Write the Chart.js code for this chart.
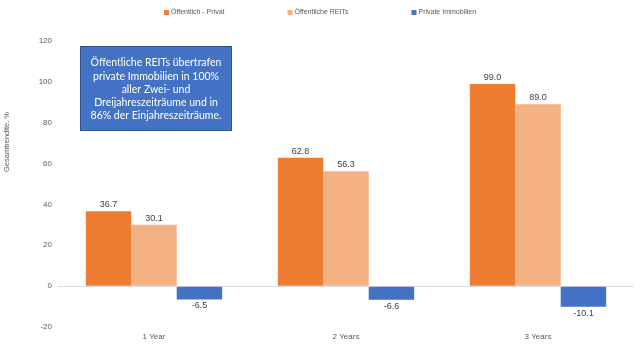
<!DOCTYPE html>
<html>
<head>
<meta charset="utf-8">
<script src="https://cdn.jsdelivr.net/npm/chart.js@4.4.1/dist/chart.umd.min.js"></script>
<style>
  html, body { margin: 0; padding: 0; background: #fff; }
  #wrap { width: 640px; height: 349px; position: relative; }
</style>
</head>
<body>
<div id="wrap"><canvas id="barChart"></canvas></div>
<script>
// chart data
const categories = ['1 Year', '2 Years', '3 Years'];
const seriesNames = ['Öffentlich - Privat', 'Öffentliche REITs', 'Private Immobilien'];
const diffValues = [36.7, 62.8, 99.0];
const reitValues = [30.1, 56.3, 89.0];
const privateValues = [-6.5, -6.6, -10.1];
const yTicks = [-20, 0, 20, 40, 60, 80, 100, 120];
const yTitle = 'Gesamtrendite, %';
const noteLines = [
    'Öffentliche REITs übertrafen',
    'private Immobilien in 100%',
    'aller Zwei- und',
    'Dreijahreszeiträume und in',
    '86% der Einjahreszeiträume.'
];

const axisFont = 'Liberation Sans, Arial, sans-serif';

// value labels above / below each bar
const valueLabels = {
    id: 'valueLabels',
    afterDatasetsDraw(chart) {
        const ctx = chart.ctx;
        ctx.save();
        ctx.font = '9px ' + axisFont;
        ctx.fillStyle = '#404040';
        ctx.textAlign = 'center';
        chart.data.datasets.forEach((ds, i) => {
            const meta = chart.getDatasetMeta(i);
            meta.data.forEach((bar, j) => {
                const v = ds.data[j];
                if (v >= 0) {
                    ctx.textBaseline = 'bottom';
                    ctx.fillText(v.toFixed(1), bar.x, bar.y - 2);
                } else {
                    ctx.textBaseline = 'top';
                    ctx.fillText(v.toFixed(1), bar.x, bar.y + 2);
                }
            });
        });
        ctx.restore();
    }
};

// legend, y title and the note box
const extras = {
    id: 'extras',
    afterDraw(chart) {
        const ctx = chart.ctx;
        ctx.save();

        // legend
        ctx.font = '7px ' + axisFont;
        ctx.textBaseline = 'middle';
        ctx.textAlign = 'left';
        const gap = 63;
        const items = chart.data.datasets.map(ds => ({
            label: ds.label,
            color: ds.backgroundColor,
            w: 5 + 2 + ctx.measureText(ds.label).width
        }));
        let total = items.reduce((s, it) => s + it.w, 0) + gap * (items.length - 1);
        let x = 320 - total / 2;
        items.forEach(it => {
            ctx.fillStyle = it.color;
            ctx.fillRect(x, 10, 5, 5);
            ctx.fillStyle = '#595959';
            ctx.fillText(it.label, x + 7, 12.5);
            x += it.w + gap;
        });

        // y axis title
        ctx.translate(7, 142);
        ctx.rotate(-Math.PI / 2);
        ctx.textAlign = 'center';
        ctx.font = '7.5px ' + axisFont;
        ctx.fillStyle = '#595959';
        ctx.fillText(yTitle, 0, 0);
        ctx.setTransform(1, 0, 0, 1, 0, 0);

        // note box
        ctx.fillStyle = '#4472C4';
        ctx.fillRect(80, 46, 152, 85);
        ctx.strokeStyle = '#2F528F';
        ctx.lineWidth = 1;
        ctx.strokeRect(80.5, 46.5, 151, 84);
        ctx.fillStyle = '#ffffff';
        ctx.font = '10.5px Lato, sans-serif';
        ctx.textAlign = 'center';
        noteLines.forEach((line, i) => {
            ctx.fillText(line, 156, 63 + i * 13.2);
        });

        ctx.restore();
    }
};

const ctx = document.getElementById('barChart').getContext('2d');
const barChart = new Chart(ctx, {
    type: 'bar',
    data: {
        labels: categories,
        datasets: [
            { label: seriesNames[0], data: diffValues, backgroundColor: '#ED7D31' },
            { label: seriesNames[1], data: reitValues, backgroundColor: '#F4B183' },
            { label: seriesNames[2], data: privateValues, backgroundColor: '#4472C4' }
        ]
    },
    options: {
        responsive: true,
        maintainAspectRatio: false,
        animation: false,
        layout: { padding: { top: 41, left: 0, right: 6, bottom: 0 } },
        datasets: {
            bar: { barPercentage: 1, categoryPercentage: 0.71 }
        },
        plugins: {
            legend: { display: false },
            tooltip: { enabled: false }
        },
        scales: {
            x: {
                grid: { display: false },
                border: { display: false },
                ticks: { color: '#595959', font: { size: 8, family: axisFont }, padding: -3 },
                afterFit(scale) { scale.height = 22; }
            },
            y: {
                min: -20,
                max: 120,
                afterBuildTicks(scale) { scale.ticks = yTicks.map(v => ({ value: v })); },
                grid: {
                    drawTicks: false,
                    color: c => (c.tick && c.tick.value === 0) ? '#d9d9d9' : 'rgba(0,0,0,0)'
                },
                border: { display: false },
                ticks: { color: '#595959', font: { size: 8, family: axisFont }, padding: 6 },
                afterFit(scale) { scale.width = 58; }
            }
        }
    },
    plugins: [valueLabels, extras]
});
</script>
</body>
</html>
